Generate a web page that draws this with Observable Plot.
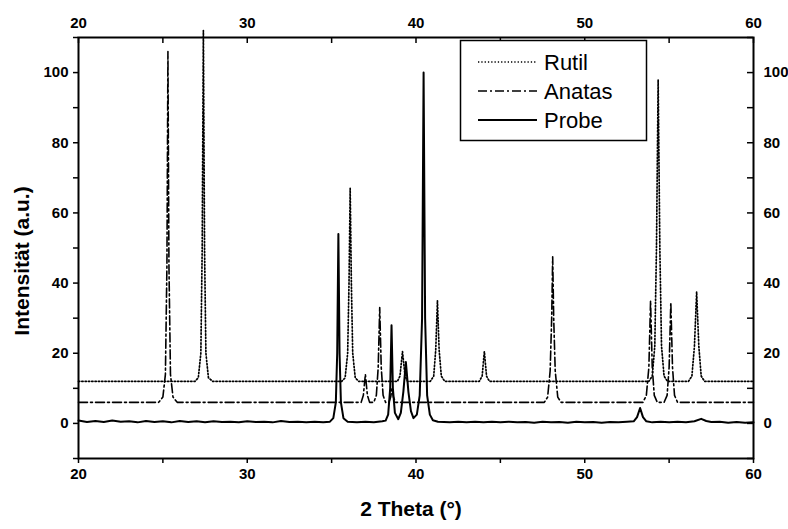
<!DOCTYPE html>
<html>
<head>
<meta charset="utf-8">
<script src="https://cdn.jsdelivr.net/npm/d3@7"></script>
<script src="https://cdn.jsdelivr.net/npm/@observablehq/plot@0.6"></script>
<style>
  body { margin: 0; background: #fff; }
  #wrap { position: relative; width: 788px; height: 529px; }
  #legend { position: absolute; left: 0; top: 0; }
  #wrap svg [aria-label*="tick label"] { font-weight: bold; font-size: 15px; }
</style>
</head>
<body>
<div id="wrap"></div>
<script>
// ---- data ----
const seriesNames = ["Rutil", "Anatas", "Probe"];

const rutil = [
  [20,12],
  [26.9,12],[27.1,13],[27.25,20],[27.33,50],[27.4,112],[27.47,50],[27.55,20],[27.7,13],[27.95,12],
  [35.6,12],[35.8,13],[35.95,20],[36.03,40],[36.1,67],[36.17,40],[36.25,20],[36.4,13],[36.6,12],
  [38.9,12],[39.05,13.5],[39.2,20.5],[39.35,13.5],[39.5,12],
  [40.85,12],[41.05,13.5],[41.17,21],[41.27,35],[41.37,21],[41.5,13.5],[41.7,12],
  [43.75,12],[43.92,13.5],[44.05,20.5],[44.18,13.5],[44.35,12],
  [53.8,12],[54.0,13.5],[54.15,22],[54.25,50],[54.35,98],[54.45,50],[54.55,22],[54.7,13.5],[54.9,12],
  [56.15,12],[56.35,13.5],[56.5,22],[56.63,37.5],[56.76,22],[56.9,13.5],[57.1,12],
  [60,12]
];

const anatas = [
  [20,6],
  [24.75,6],[25.0,7.5],[25.15,14],[25.24,45],[25.3,106],[25.36,45],[25.45,14],[25.6,7.5],[25.85,6],
  [36.75,6],[36.88,8],[37.0,14],[37.12,8],[37.25,6],
  [37.5,6],[37.65,8],[37.76,16],[37.85,33],[37.94,16],[38.05,8],[38.2,6],
  [38.4,6],[38.5,7.5],[38.58,10],[38.66,7.5],[38.8,6],
  [47.6,6],[47.8,7.5],[47.95,15],[48.04,30],[48.1,47.5],[48.16,30],[48.25,15],[48.4,7.5],[48.6,6],
  [53.45,6],[53.65,8],[53.8,16],[53.9,35],[54.0,16],[54.12,8],[54.3,6],
  [54.7,6],[54.88,8],[55.0,16],[55.1,34.5],[55.2,16],[55.32,8],[55.5,6],
  [60,6]
];

const probe = [
  [20,0.8],[20.5,0.4],[21,0.7],[21.5,0.4],[22,0.8],[22.5,0.5],[23,0.6],[23.5,0.3],[24,0.7],[24.5,0.4],
  [25,0.6],[25.5,0.3],[26,0.7],[26.5,0.4],[27,0.6],[27.5,0.3],[28,0.6],[28.5,0.4],[29,0.5],[29.5,0.3],
  [30,0.6],[30.5,0.4],[31,0.5],[31.5,0.3],[32,0.7],[32.5,0.4],[33,0.5],[33.5,0.3],[34,0.5],[34.5,0.3],
  [34.9,0.5],[35.1,1.5],[35.25,6],[35.33,20],[35.4,54],[35.47,20],[35.55,6],[35.7,1.5],[35.95,0.5],
  [36.5,0.3],[37,0.5],[37.5,0.3],[38.0,0.6],
  [38.2,0.8],[38.35,2.5],[38.47,10],[38.55,28],[38.63,10],[38.75,3],[38.95,1.2],
  [39.1,3],[39.25,9],[39.4,17.5],[39.55,9],[39.7,3.5],[39.85,1.5],
  [40.05,2.5],[40.22,8],[40.36,30],[40.45,100],[40.54,30],[40.66,8],[40.82,2.5],[41.0,0.9],[41.3,0.5],
  [42,0.3],[42.5,0.5],[43,0.3],[43.5,0.5],[44,0.3],[44.5,0.5],[45,0.3],[45.5,0.5],[46,0.3],[46.5,0.4],
  [47,0.2],[47.5,0.5],[48,0.3],[48.5,0.4],[49,0.2],[49.5,0.5],[50,0.3],[50.5,0.4],[51,0.2],[51.5,0.4],
  [52,0.3],[52.5,0.5],
  [52.9,0.6],[53.1,1.8],[53.28,4.4],[53.45,1.8],[53.65,0.6],
  [54,0.3],[54.5,0.5],[55,0.3],[55.5,0.5],[56,0.3],[56.5,0.6],[56.9,1.3],[57.2,0.7],[57.5,0.4],
  [58,0.5],[58.5,0.2],[59,0.4],[59.5,0.2],[60,0.3]
];

const xMajorTicks = [20, 30, 40, 50, 60];
const xMinorTicks = [25, 35, 45, 55];
const yMajorTicks = [0, 20, 40, 60, 80, 100];
const yMinorTicks = [-10, 10, 30, 50, 70, 90, 110];

const xTitle = "2 Theta (°)";
const yTitle = "Intensität (a.u.)";

// ---- chart ----
const W = 788, H = 529;
const mL = 78, mR = 35, mT = 37, mB = 71;
const plotW = W - mL - mR, plotH = H - mT - mB;
const font = "Liberation Sans, Arial, sans-serif";

const chart = Plot.plot({
  width: W,
  height: H,
  marginLeft: mL,
  marginRight: mR,
  marginTop: mT,
  marginBottom: mB,
  style: { fontFamily: font, fontSize: "15px", background: "#fff", color: "#000" },
  x: { domain: [20, 60] },
  y: { domain: [-10, 110] },
  marks: [
    // bottom axis (outward ticks)
    Plot.axisX({ anchor: "bottom", ticks: xMajorTicks, tickSize: 5, tickPadding: 5, label: null, strokeWidth: 1.5 }),
    Plot.axisX({ anchor: "bottom", ticks: xMinorTicks, tickSize: 5, tickFormat: () => "", label: null, strokeWidth: 1.5 }),
    // top axis labels + inward ticks
    Plot.axisX({ anchor: "top", ticks: xMajorTicks, tickSize: 0, tickPadding: 10, label: null }),
    Plot.tickX(xMajorTicks.concat(xMinorTicks), { x: d => d, insetBottom: plotH - 6, strokeWidth: 1.5 }),
    // left axis (outward)
    Plot.axisY({ anchor: "left", ticks: yMajorTicks, tickSize: 5, tickPadding: 5, label: null, strokeWidth: 1.5 }),
    Plot.axisY({ anchor: "left", ticks: yMinorTicks, tickSize: 5, tickFormat: () => "", label: null, strokeWidth: 1.5 }),
    // right axis labels + inward ticks
    Plot.axisY({ anchor: "right", ticks: yMajorTicks, tickSize: 0, tickPadding: 10, label: null }),
    Plot.tickY(yMajorTicks.concat(yMinorTicks), { y: d => d, insetLeft: plotW - 6, strokeWidth: 1.5 }),
    // series
    Plot.line(rutil, { x: d => d[0], y: d => d[1], stroke: "#000", strokeWidth: 1.7, strokeDasharray: "1.3,2" }),
    Plot.line(anatas, { x: d => d[0], y: d => d[1], stroke: "#000", strokeWidth: 1.6, strokeDasharray: "9,3,2,3" }),
    Plot.line(probe, { x: d => d[0], y: d => d[1], stroke: "#000", strokeWidth: 2 }),
    Plot.frame({ stroke: "#000", strokeWidth: 2 }),
    // titles
    Plot.text([xTitle], { frameAnchor: "bottom", dy: 57, dx: -5, fontSize: 21, fontWeight: "bold", text: d => d }),
    Plot.text([yTitle], { frameAnchor: "left", textAnchor: "middle", dx: -56, dy: 13, rotate: -90, fontSize: 21, fontWeight: "bold", text: d => d })
  ]
});

const wrap = document.getElementById("wrap");
wrap.appendChild(chart);

// ---- legend overlay ----
const dashes = ["1.3,2", "9,3,2,3", null];
const ns = "http://www.w3.org/2000/svg";
const lg = document.createElementNS(ns, "svg");
lg.setAttribute("id", "legend");
lg.setAttribute("width", W);
lg.setAttribute("height", H);
lg.style.pointerEvents = "none";
const box = document.createElementNS(ns, "rect");
box.setAttribute("x", 460.5); box.setAttribute("y", 40.5);
box.setAttribute("width", 186); box.setAttribute("height", 100);
box.setAttribute("fill", "#fff"); box.setAttribute("stroke", "#000"); box.setAttribute("stroke-width", 1.5);
lg.appendChild(box);
seriesNames.forEach((name, i) => {
  const cy = 62 + i * 29;
  const ln = document.createElementNS(ns, "line");
  ln.setAttribute("x1", 478); ln.setAttribute("x2", 537);
  ln.setAttribute("y1", cy); ln.setAttribute("y2", cy);
  ln.setAttribute("stroke", "#000");
  ln.setAttribute("stroke-width", i === 2 ? 2 : 1.6);
  if (dashes[i]) ln.setAttribute("stroke-dasharray", dashes[i]);
  lg.appendChild(ln);
  const tx = document.createElementNS(ns, "text");
  tx.setAttribute("x", 544); tx.setAttribute("y", cy);
  tx.setAttribute("dy", "0.35em");
  tx.setAttribute("font-family", font);
  tx.setAttribute("font-size", 22);
  tx.textContent = name;
  lg.appendChild(tx);
});
wrap.appendChild(lg);
</script>
</body>
</html>
